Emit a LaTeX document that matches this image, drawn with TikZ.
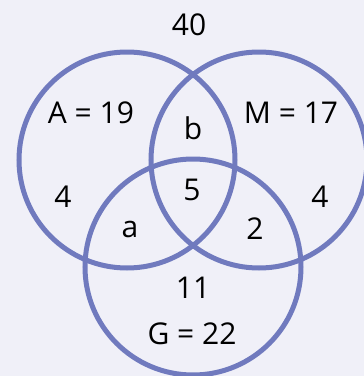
\documentclass[tikz,border=0pt]{standalone}
\usepackage{fontspec}
\setmainfont{Open Sans}
\definecolor{bgcol}{RGB}{240,240,248}
\definecolor{ringcol}{RGB}{112,122,190}
\begin{document}
\begin{tikzpicture}[x=1pt,y=-1pt,
  ring/.style={draw=ringcol,line width=5pt},
  lbl/.style={font=\fontsize{30}{34}\selectfont,text=black,inner sep=0pt,anchor=center}]
\fill[bgcol] (0,0) rectangle (364,376);
\useasboundingbox (0,0) rectangle (364,376);
\coordinate (cA) at (127,160);
\coordinate (cM) at (259,160);
\coordinate (cG) at (193,267);
\draw[ring] (cA) circle[radius=108];
\draw[ring] (cM) circle[radius=108];
\draw[ring] (cG) circle[radius=108];
\node[lbl] (u) at (189,25) {40};
\node[lbl] (A) at (91,113) {A = 19};
\node[lbl] (M) at (291,113) {M = 17};
\node[lbl] (b) at (193,128) {b};
\node[lbl] (A4) at (63,197) {4};
\node[lbl] (c5) at (192,190) {5};
\node[lbl] (M4) at (320,197) {4};
\node[lbl] (a) at (130,229) {a};
\node[lbl] (t2) at (255,229) {2};
\node[lbl] (g11) at (193,288) {11};
\node[lbl] (G) at (192,334) {G = 22};
\end{tikzpicture}
\end{document}
